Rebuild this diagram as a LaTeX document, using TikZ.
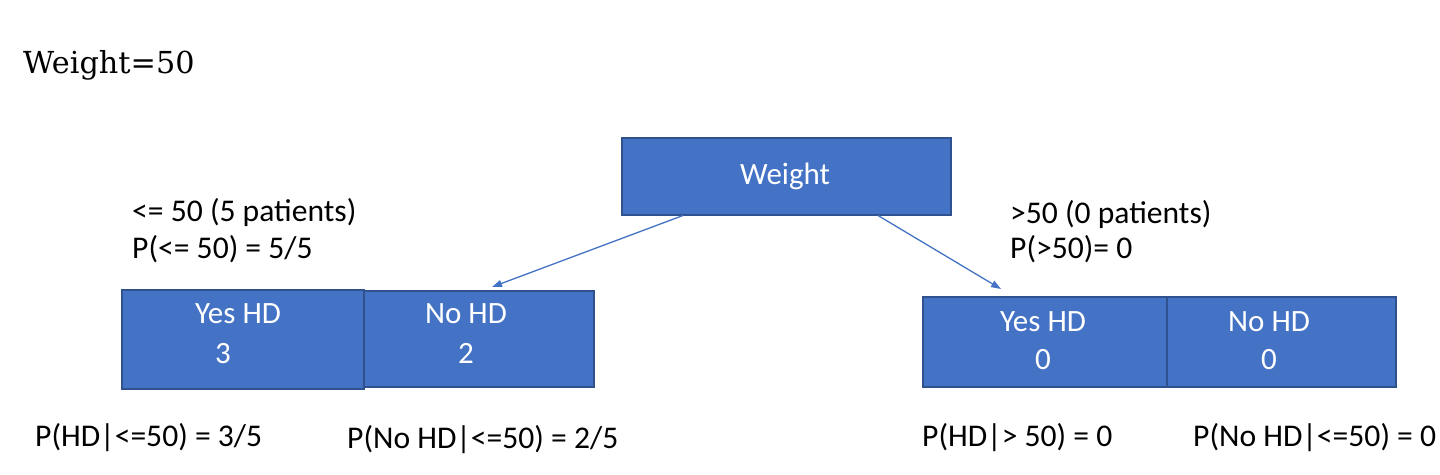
\documentclass[tikz,border=0pt]{standalone}
\usepackage{fontspec}
\setmainfont{Carlito}
\newfontfamily\titlefont{DejaVu Serif}
\usetikzlibrary{arrows.meta,calc}
\definecolor{boxblue}{HTML}{4472C4}
\definecolor{boxedge}{HTML}{2F528F}
\begin{document}
\begin{tikzpicture}[x=1pt,y=-1pt,
  cell/.style={draw=boxedge, fill=boxblue, line width=1.5pt, inner sep=0, anchor=north west},
  intext/.style={text=white, font=\fontsize{31}{36}\selectfont, anchor=base, inner sep=0},
  lab/.style={font=\fontsize{31.6}{36}\selectfont, anchor=base west, inner sep=0},
  link/.style={draw=boxblue, line width=1.3pt, -{Triangle[length=10pt,width=7pt]}}]
\useasboundingbox[fill=white] (0,0) rectangle (1440,474);
\node[anchor=base west, inner sep=0, font=\titlefont\fontsize{30.3}{34}\selectfont] (title) at (23,73) {Weight=50};
% boxes
\node[cell, minimum width=329pt, minimum height=77pt] (weight) at (621,137) {};
\node[cell, minimum width=242pt, minimum height=99pt] (yesL) at (121,289) {};
\node[cell, minimum width=230pt, minimum height=96pt] (noL) at (363,290) {};
\node[cell, minimum width=244pt, minimum height=90pt] (yesR) at (922,296) {};
\node[cell, minimum width=229pt, minimum height=90pt] (noR) at (1166,296) {};
% box texts
\node[intext] (tw) at (785,184) {Weight};
\node[intext] (tyL) at (238,323) {Yes HD};
\node[intext] (nyL) at (223,363) {3};
\node[intext] (tnL) at (466,323) {No HD};
\node[intext] (nnL) at (466,363) {2};
\node[intext] (tyR) at (1043,331) {Yes HD};
\node[intext] (nyR) at (1043,369) {0};
\node[intext] (tnR) at (1269,331) {No HD};
\node[intext] (nnR) at (1269,369) {0};
% labels
\node[lab] (l1) at (132,221) {<= 50 (5 patients)};
\node[lab] (l2) at (132,258) {P(<= 50) = 5/5};
\node[lab] (r1) at (1010,223) {>50 (0 patients)};
\node[lab] (r2) at (1010,258) {P(>50)= 0};
\node[lab] (b1) at (35,446) {P(HD|<=50) = 3/5};
\node[lab] (b2) at (347,448) {P(No HD|<=50) = 2/5};
\node[lab] (b3) at (922,446) {P(HD|> 50) = 0};
\node[lab] (b4) at (1193,446) {P(No HD|<=50) = 0};
% connectors
\coordinate (tipL) at (492,287);
\coordinate (tipR) at (1001,289);
\draw[link] ($(weight.south west)+(62,0)$) -- (tipL);
\draw[link] ($(weight.south west)+(257,0)$) -- (tipR);
\end{tikzpicture}
\end{document}
